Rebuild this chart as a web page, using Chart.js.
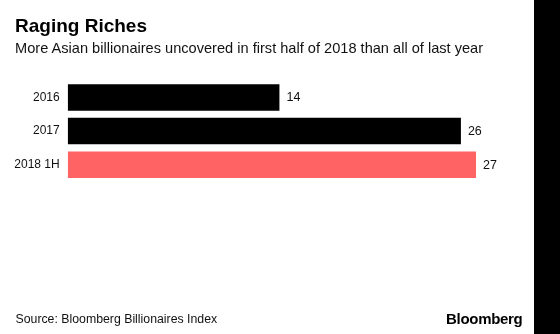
<!DOCTYPE html>
<html>
<head>
<meta charset="utf-8">
<script src="https://cdn.jsdelivr.net/npm/chart.js@4"></script>
<style>
  html, body { margin: 0; padding: 0; width: 560px; height: 334px; background: #000; overflow: hidden; }
  #wrap { position: absolute; left: 0; top: 0; width: 534px; height: 334px; background: #fff; font-family: "Liberation Sans", Arial, sans-serif; }
  #title { position: absolute; left: 15px; top: 15px; font-size: 19px; font-weight: bold; color: #000; white-space: nowrap; }
  #subtitle { position: absolute; left: 15px; top: 40.3px; font-size: 14.6px; color: #111; white-space: nowrap; }
  #source { position: absolute; left: 15.5px; top: 312.2px; font-size: 12.3px; color: #111; white-space: nowrap; }
  #logo { position: absolute; left: 446px; top: 309.7px; font-size: 15px; font-weight: bold; color: #000; white-space: nowrap; letter-spacing: -0.3px; }
  #chartBox { position: absolute; left: 0; top: 0; width: 534px; height: 334px; }
</style>
</head>
<body>
<div id="wrap">
  <div id="chartBox"><canvas id="c" width="534" height="334"></canvas></div>
  <div id="title">Raging Riches</div>
  <div id="subtitle">More Asian billionaires uncovered in first half of 2018 than all of last year</div>
  <div id="source">Source: Bloomberg Billionaires Index</div>
  <div id="logo">Bloomberg</div>
</div>
<script>
const categories = ["2016", "2017", "2018 1H"];
const billionaires = [14, 26, 27];

const barColors = ["#000000", "#000000", "#ff6363"];

const valueLabels = {
  id: "valueLabels",
  afterDatasetsDraw(chart) {
    const ctx = chart.ctx;
    const meta = chart.getDatasetMeta(0);
    ctx.save();
    ctx.font = "12.5px 'Liberation Sans', Arial, sans-serif";
    ctx.fillStyle = "#111";
    ctx.textAlign = "left";
    ctx.textBaseline = "middle";
    meta.data.forEach((bar, i) => {
      ctx.fillText(String(chart.data.datasets[0].data[i]), bar.x + 7, bar.y + 0.5);
    });
    ctx.restore();
  }
};

new Chart(document.getElementById("c"), {
  type: "bar",
  data: {
    labels: categories,
    datasets: [{
      data: billionaires,
      backgroundColor: barColors,
      borderWidth: 0,
      categoryPercentage: 1,
      barPercentage: 0.79
    }]
  },
  options: {
    indexAxis: "y",
    responsive: false,
    animation: false,
    devicePixelRatio: 1,
    layout: { padding: { top: 80.7, bottom: 152.5, left: 0, right: 12.6 } },
    plugins: { legend: { display: false }, tooltip: { enabled: false }, title: { display: false } },
    scales: {
      x: { display: false, min: 0, max: 30 },
      y: {
        grid: { display: false, drawTicks: false },
        border: { display: false },
        ticks: { color: "#111", font: { family: "'Liberation Sans', Arial, sans-serif", size: 12 }, padding: 8 },
        afterFit(scale) { scale.width = 67.7; }
      }
    }
  },
  plugins: [valueLabels]
});
</script>
</body>
</html>
